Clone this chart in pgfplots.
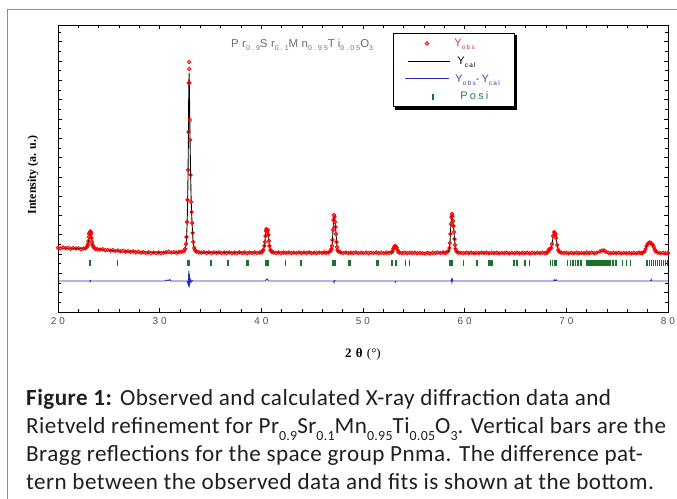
\documentclass[border=0pt]{standalone}
\usepackage{pgfplots}
\pgfplotsset{compat=1.18}
\usepackage{pgfplotstable}
\usepackage{fontspec}
\setmainfont{Carlito}
\newfontfamily\capfont[LetterSpace=2]{Carlito}
\newfontfamily\tickfont[LetterSpace=30]{Liberation Sans}
\newfontfamily\legfont[LetterSpace=20]{Liberation Sans}
\newfontfamily\labfont{Liberation Serif}
\definecolor{teal1}{RGB}{45,187,163}
\definecolor{obsred}{RGB}{255,0,0}
\definecolor{diffblue}{RGB}{40,40,190}
\definecolor{braggreen}{RGB}{25,115,45}
\definecolor{legred}{RGB}{225,50,70}
\definecolor{legblue}{RGB}{60,70,190}
\definecolor{leggreen}{RGB}{30,130,90}
\definecolor{titlegray}{RGB}{110,110,110}
\definecolor{tickgray}{RGB}{80,80,80}
\newcommand\csub[1]{\raisebox{-0.6ex}{\fontsize{14}{14}\selectfont #1}}
\newcommand\tsub[1]{\raisebox{-0.6ex}{\fontsize{7}{7}\selectfont #1}}
\newcommand\lsub[1]{\raisebox{-0.5ex}{\fontsize{6.5}{6.5}\selectfont #1}}
\pgfplotsset{
  obsleg/.style={legend image code/.code={\path (0bp,-3bp) (60bp,3bp); \draw[mark repeat=3,mark phase=2,##1] plot coordinates {(0bp,0bp) (33bp,0bp) (60bp,0bp)};}},
  calleg/.style={legend image code/.code={\path (0bp,-3bp) (60bp,3bp); \draw[##1] (14bp,0bp) -- (56bp,0bp);}},
  diffleg/.style={legend image code/.code={\path (0bp,-3bp) (60bp,3bp); \draw[##1] (11bp,0bp) -- (55bp,0bp);}},
  posleg/.style={legend image code/.code={\path (0bp,-3bp) (60bp,3bp); \draw[mark repeat=3,mark phase=2,##1] plot coordinates {(0bp,0bp) (39bp,0bp) (60bp,0bp)};}},
}

\pgfplotstableread{
x obs cal
20.00 64.2 64.0
20.25 63.6 64.0
20.50 64.5 63.9
20.75 63.8 63.9
21.00 64.1 63.8
21.25 63.2 63.7
21.50 63.9 63.6
21.75 63.4 63.5
22.00 63.8 63.4
22.25 62.9 63.3
22.50 63.3 63.2
22.70 63.8 63.6
22.80 64.5 64.3
22.90 66.0 65.8
22.95 68.0 67.5
23.00 71.0 70.5
23.05 75.0 74.0
23.08 78.0 76.0
23.10 79.0 77.5
23.15 80.0 79.0
23.20 80.5 79.3
23.25 78.0 77.5
23.28 79.0 76.0
23.30 74.0 74.0
23.35 70.0 70.5
23.40 67.0 67.5
23.50 65.0 64.8
23.60 63.8 63.8
23.70 63.2 63.2
23.90 62.6 62.8
24.15 62.3 62.5
24.40 62.8 62.3
24.65 61.7 62.0
24.90 62.1 61.8
25.15 61.3 61.6
25.40 61.9 61.4
25.65 61.0 61.2
25.90 61.5 61.1
26.15 60.6 60.9
26.40 61.2 60.8
26.65 60.4 60.6
26.90 60.9 60.5
27.15 60.0 60.3
27.40 60.6 60.2
27.65 59.7 60.1
27.90 60.2 60.0
28.15 59.3 59.9
28.40 59.8 59.8
28.65 59.0 59.8
28.90 59.6 59.7
29.15 58.9 59.7
29.40 59.4 59.6
29.65 58.8 59.6
29.90 59.5 59.6
30.15 58.9 59.6
30.40 59.3 59.6
30.65 59.8 59.6
30.90 60.2 59.7
31.15 59.4 59.7
31.40 59.9 59.7
31.65 59.3 59.8
31.90 60.0 59.8
32.15 60.3 60.0
32.40 61.0 60.8
32.50 63.0 62.6
32.60 68.0 66.8
32.65 75.0 73.0
32.70 90.0 87.0
32.75 112.0 108.0
32.80 142.0 140.0
32.84 180.0 186.0
32.87 229.0 226.0
32.90 250.0 239.0
32.91 243.0 236.0
32.93 229.0 226.0
32.96 192.0 196.0
33.00 172.0 168.0
33.05 137.0 136.0
33.10 110.0 112.0
33.15 100.0 98.0
33.20 89.0 87.0
33.25 79.0 77.0
33.30 70.0 69.5
33.40 64.0 63.8
33.50 61.5 61.4
33.60 60.5 60.4
33.85 59.8 59.9
34.10 59.3 59.7
34.35 59.8 59.6
34.60 59.1 59.6
34.85 59.7 59.5
35.10 59.0 59.5
35.35 59.6 59.4
35.60 59.2 59.4
35.85 59.7 59.4
36.10 58.9 59.4
36.35 59.5 59.3
36.60 59.0 59.3
36.85 59.6 59.3
37.10 58.8 59.3
37.35 59.4 59.3
37.60 58.9 59.3
37.85 59.6 59.3
38.10 59.0 59.2
38.35 59.5 59.2
38.60 58.8 59.2
38.85 59.4 59.2
39.10 59.0 59.2
39.35 59.6 59.2
39.60 58.9 59.2
39.85 59.5 59.3
40.00 59.5 59.4
40.10 60.5 60.2
40.20 62.0 61.8
40.30 66.0 65.5
40.35 70.0 69.5
40.40 76.0 75.0
40.45 81.0 80.0
40.50 83.0 82.5
40.55 82.0 82.0
40.60 80.0 80.5
40.65 82.0 80.0
40.70 77.0 76.5
40.75 71.0 71.5
40.80 66.0 66.5
40.90 62.0 62.2
41.00 60.5 60.6
41.20 59.5 59.5
41.45 59.0 59.2
41.70 59.5 59.2
41.95 58.9 59.2
42.20 59.4 59.2
42.45 59.0 59.1
42.70 59.6 59.1
42.95 58.8 59.1
43.20 59.3 59.1
43.45 59.0 59.1
43.70 59.5 59.1
43.95 58.9 59.1
44.20 59.4 59.1
44.45 59.0 59.1
44.70 59.6 59.1
44.95 58.9 59.1
45.20 59.3 59.1
45.45 58.8 59.1
45.70 59.4 59.2
45.95 59.1 59.2
46.20 59.6 59.3
46.40 59.2 59.4
46.60 59.5 59.5
46.80 61.0 60.8
46.90 63.0 62.8
46.95 66.0 65.5
47.00 72.0 71.0
47.05 82.0 81.0
47.10 92.0 91.0
47.15 97.0 96.0
47.20 95.0 95.0
47.25 90.0 90.5
47.30 85.0 85.0
47.35 78.0 78.5
47.40 70.0 71.0
47.45 65.0 65.5
47.50 62.0 62.3
47.60 60.5 60.5
47.80 59.5 59.5
48.05 59.0 59.2
48.30 59.5 59.1
48.55 58.8 59.1
48.80 59.3 59.1
49.05 59.0 59.0
49.30 59.5 59.0
49.55 58.8 59.0
49.80 59.3 59.0
50.05 58.9 59.0
50.30 59.4 59.0
50.55 58.8 59.0
50.80 59.3 59.0
51.05 59.0 59.0
51.30 59.5 59.0
51.55 58.9 59.0
51.80 59.3 59.0
52.05 58.8 59.0
52.30 59.4 59.1
52.55 59.1 59.2
52.80 59.5 59.6
52.90 61.0 60.8
53.00 63.5 63.0
53.10 65.5 65.3
53.20 66.0 66.2
53.30 64.5 64.8
53.40 62.0 62.3
53.50 60.0 60.5
53.60 59.3 59.4
53.85 58.9 59.0
54.10 59.4 59.0
54.35 58.8 59.0
54.60 59.3 59.0
54.85 58.9 59.0
55.10 59.4 59.0
55.35 58.7 59.0
55.60 59.2 59.0
55.85 58.8 59.0
56.10 58.4 59.0
56.35 59.3 59.0
56.60 58.5 59.0
56.85 59.2 59.0
57.10 58.9 59.0
57.35 59.4 59.0
57.60 58.9 59.1
57.85 59.5 59.2
58.05 59.2 59.3
58.20 59.5 59.5
58.40 61.0 60.8
58.50 64.0 63.5
58.55 69.0 68.0
58.60 78.0 77.0
58.65 88.0 87.0
58.70 95.0 94.0
58.75 98.0 97.5
58.80 96.0 96.5
58.85 91.0 91.5
58.90 86.0 86.0
58.95 80.0 80.5
59.00 73.0 73.5
59.05 67.0 67.5
59.10 63.0 63.5
59.20 60.5 60.6
59.40 59.2 59.3
59.65 59.2 59.0
59.90 58.8 59.0
60.15 59.3 59.0
60.40 58.9 58.9
60.65 59.4 58.9
60.90 58.7 58.9
61.15 59.2 58.9
61.40 58.8 58.9
61.65 59.3 58.9
61.90 58.9 58.9
62.15 59.4 58.9
62.40 58.7 58.9
62.65 59.2 58.9
62.90 58.8 58.9
63.15 59.3 58.9
63.40 58.6 58.9
63.65 59.1 58.9
63.90 58.9 58.9
64.15 59.3 58.9
64.40 58.7 58.9
64.65 59.2 58.9
64.90 58.8 58.9
65.15 59.4 58.9
65.40 58.7 58.9
65.65 59.1 58.9
65.90 58.9 58.9
66.15 59.3 58.9
66.40 58.6 58.9
66.65 59.2 58.9
66.90 58.8 58.9
67.15 59.3 58.9
67.40 58.9 58.9
67.65 59.4 59.0
67.90 59.0 59.1
68.10 59.3 59.3
68.20 60.5 60.3
68.30 62.5 62.0
68.40 63.0 63.0
68.50 64.0 64.2
68.60 68.0 67.5
68.70 76.0 75.0
68.80 80.0 79.5
68.85 79.0 79.0
68.90 77.0 77.5
68.95 78.0 77.5
69.00 74.0 74.5
69.10 67.0 67.5
69.20 62.0 62.5
69.30 60.3 60.5
69.50 59.2 59.2
69.75 58.9 59.0
70.00 59.3 58.9
70.25 58.7 58.9
70.50 59.2 58.9
70.75 58.8 58.9
71.00 59.3 58.9
71.25 58.7 58.9
71.50 59.1 58.9
71.75 58.8 58.9
72.00 59.3 58.9
72.25 58.9 58.9
72.50 59.4 58.9
72.75 58.8 58.9
73.00 59.3 59.0
73.30 60.5 60.0
73.50 61.5 61.0
73.70 61.5 61.0
73.90 60.3 60.0
74.15 59.1 59.0
74.40 58.7 58.9
74.65 59.2 58.9
74.90 58.8 58.8
75.15 59.3 58.8
75.40 58.7 58.8
75.65 59.1 58.8
75.90 58.8 58.8
76.15 59.2 58.8
76.40 58.6 58.8
76.65 59.1 58.8
76.90 58.8 58.8
77.15 59.2 58.8
77.35 58.9 58.9
77.50 59.0 59.1
77.70 60.5 60.3
77.80 63.0 62.5
77.90 66.0 65.5
78.00 68.0 67.8
78.10 69.0 69.0
78.20 69.5 69.3
78.30 69.0 69.0
78.40 68.0 68.3
78.50 67.0 67.2
78.60 65.0 65.3
78.70 62.5 62.8
78.80 60.5 60.8
79.00 59.3 59.3
79.25 58.8 58.9
79.50 59.2 58.8
79.75 58.6 58.7
80.00 59.0 58.7
}\obstable

\pgfplotstableread{
x y
20.00 31.0
23.10 31.0
23.15 30.2
23.20 31.5
23.25 31.0
30.50 31.0
30.70 31.8
30.90 31.5
31.00 32.5
31.10 31.0
32.70 31.0
32.80 28.0
32.85 36.0
32.88 41.0
32.90 24.5
32.93 38.0
32.96 27.0
33.00 33.0
33.10 30.0
33.20 31.5
33.30 31.0
40.40 31.0
40.50 32.5
40.60 33.0
40.70 31.0
47.10 31.0
47.15 29.5
47.20 31.5
47.30 31.0
53.15 31.0
53.20 30.0
53.25 31.0
58.65 31.0
58.70 32.5
58.75 29.5
58.80 32.5
58.85 31.0
68.75 31.0
68.80 32.3
68.90 31.0
69.00 32.3
69.10 31.0
78.30 31.0
78.35 32.5
78.40 31.0
80.00 31.0
}\difftable

\pgfplotstableread{
x y
23.12 49
23.22 49
25.83 49
32.72 49
32.80 49
32.88 49
35.04 49
36.70 49
36.80 49
38.60 49
38.70 49
40.45 49
40.55 49
40.65 49
42.35 49
43.88 49
43.98 49
47.05 49
47.15 49
47.25 49
48.62 49
48.72 49
51.38 49
51.48 49
52.80 49
52.90 49
53.20 49
53.30 49
54.20 49
54.55 49
58.55 49
58.65 49
58.75 49
59.90 49
61.15 49
61.25 49
62.40 49
62.50 49
62.60 49
62.70 49
64.85 49
65.15 49
65.95 49
66.35 49
68.45 49
68.65 49
68.85 49
69.00 49
70.15 49
70.40 49
70.65 49
70.90 49
71.15 49
71.45 49
72.05 49
72.17 49
72.29 49
72.41 49
72.53 49
72.65 49
72.77 49
72.89 49
73.01 49
73.13 49
73.25 49
73.37 49
73.49 49
73.61 49
73.73 49
73.85 49
73.97 49
74.09 49
74.21 49
74.35 49
74.60 49
74.90 49
75.50 49
75.90 49
76.30 49
77.95 49
78.15 49
78.35 49
78.55 49
78.75 49
78.95 49
79.15 49
79.35 49
79.55 49
79.75 49
79.95 49
}\braggtable

\begin{document}
\begin{tikzpicture}[x=1bp,y=1bp]
\fill[white] (0,0) rectangle (677,499);
\path[use as bounding box] (0,0) rectangle (677,499);
\draw[teal1, line width=1.6bp] (7.5,-10) -- (7.5,489.5) -- (690,489.5);
\begin{axis}[
  at={(57,187)}, anchor=south west,
  scale only axis, width=610bp, height=287bp,
  xmin=20, xmax=80, ymin=0, ymax=287,
  axis line style={line width=0.9bp},
  tick align=inside,
  tick style={black, line width=0.6bp},
  major tick length=4bp, minor tick length=3bp,
  xtick={20,30,...,80}, minor x tick num=4,
  ytick={0,19.3,...,287}, minor y tick num=1,
  yticklabels={},
  /pgf/number format/assume math mode=true,
  xticklabel style={font=\tickfont\fontsize{10}{10}\selectfont, text=tickgray, yshift=-2bp},
  every axis x label/.style={at={(axis description cs:0.5,0)}, anchor=center, yshift=-42bp},
  xlabel={\labfont\fontsize{13}{13}\selectfont\textbf{2\,\,θ}\,\,(°)},
  every axis y label/.style={at={(axis description cs:-0.041,0.477)}, anchor=center, rotate=90},
  ylabel={\labfont\bfseries\fontsize{12}{12}\selectfont Intensity (a. u.)},
  legend cell align=left,
  legend style={at={(rel axis cs:0.5492,0.9732)}, anchor=north west,
    draw=black, line width=1bp, fill=white,
    inner xsep=0bp, inner ysep=1.5bp, row sep=0bp,
    nodes={inner sep=0bp, text height=12.2bp, text depth=5.5bp},
    /tikz/every even column/.append style={column sep=0bp},
    font=\legfont\fontsize{11}{11}\selectfont},
]
\fill[black] (rel axis cs:0.5533,0.9652) rectangle (rel axis cs:0.7525,0.7021);
\addplot[only marks, mark=o, mark size=1.7bp, color=obsred, mark options={line width=0.9bp}, obsleg]
  table[x=x,y=obs]{\obstable};
\addlegendentry{\makebox[60bp][l]{\textcolor{legred}{Y\lsub{obs}}}}
\addplot[black, line width=0.9bp, calleg]
  table[x=x,y=cal]{\obstable};
\addlegendentry{\makebox[60bp][l]{\hspace{3bp}Y\lsub{cal}}}
\addplot[diffblue, line width=0.9bp, diffleg]
  table[x=x,y=y]{\difftable};
\addlegendentry{\makebox[60bp][l]{\hspace{1bp}\textcolor{legblue}{Y\lsub{obs}-Y\lsub{cal}}}}
\addplot[only marks, mark=|, mark size=3bp, color=braggreen, mark options={line width=1.3bp}, posleg]
  table[x=x,y=y]{\braggtable};
\addlegendentry{\makebox[60bp][l]{\hspace{6bp}\textcolor{leggreen}{Posi}}}
\node[anchor=base west, inner sep=0bp, text=titlegray, font=\tickfont\fontsize{11.5}{11.5}\selectfont]
  at (rel axis cs:0.2836,0.923) {Pr\tsub{0.9}Sr\tsub{0.1}Mn\tsub{0.95}Ti\tsub{0.05}O\tsub{3}};
\end{axis}
\begin{scope}[every node/.style={anchor=base west, inner sep=0bp, text=black!88, font=\capfont\fontsize{23.2}{23.2}\selectfont}]
\node at (26,93) {\textbf{Figure 1:} Observed and calculated X-ray diffraction data and};
\node at (26,65) {Rietveld refinement for Pr\csub{0.9}Sr\csub{0.1}Mn\csub{0.95}Ti\csub{0.05}O\csub{3}. Vertical bars are the};
\node at (26,37) {Bragg reflections for the space group Pnma. The difference pat-};
\node at (26,9) {tern between the observed data and fits is shown at the bottom.};
\end{scope}
\end{tikzpicture}
\end{document}
